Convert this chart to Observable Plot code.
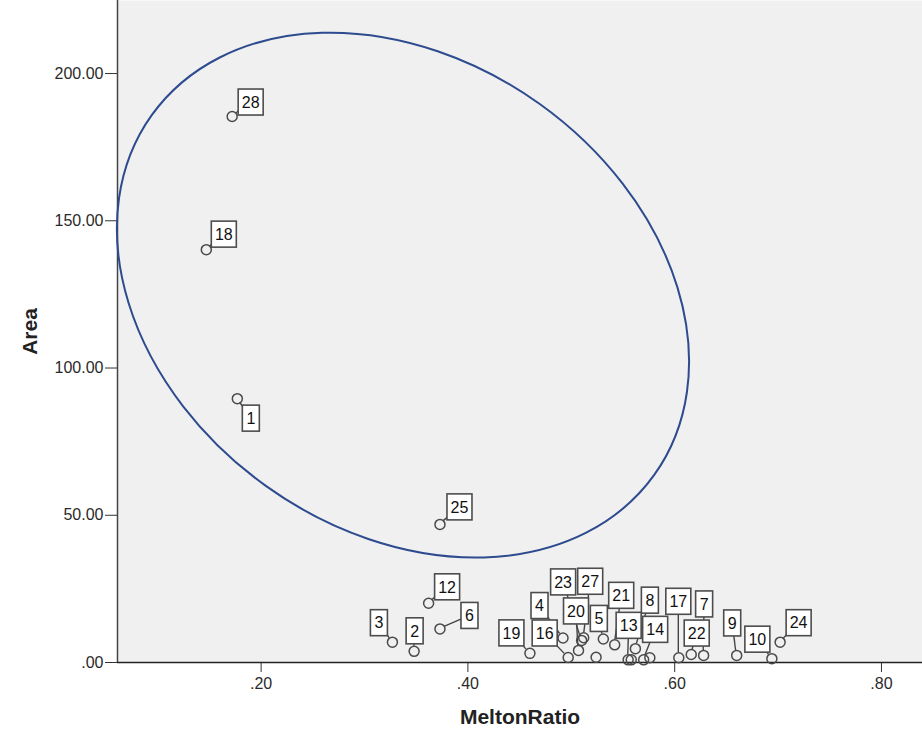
<!DOCTYPE html>
<html>
<head>
<meta charset="utf-8">
<script src="https://cdn.jsdelivr.net/npm/d3@7"></script>
<script src="https://cdn.jsdelivr.net/npm/@observablehq/plot@0.6"></script>
<style>
  html, body { margin: 0; padding: 0; background: #ffffff; }
  #chart svg { display: block; }
</style>
</head>
<body>
<div id="chart"></div>
<script>
// ---- data ----
const caseIds = [1,2,3,4,5,6,7,8,9,10,11,12,13,14,15,16,17,18,19,20,21,22,23,24,25,26,27,28];
const meltonRatio = [0.177,0.348,0.327,0.492,0.531,0.373,0.628,0.562,0.660,0.694,0.558,0.362,0.555,0.570,0.576,0.497,0.604,0.147,0.460,0.507,0.542,0.616,0.510,0.702,0.373,0.524,0.512,0.172];
const area = [89.6,3.8,6.9,8.3,8.0,11.4,2.4,4.7,2.4,1.3,0.9,20.1,0.9,0.9,1.6,1.7,1.6,140.2,3.1,4.1,6.0,2.7,7.5,6.9,46.9,1.8,8.4,185.4];
const hiddenLabels = [11, 15, 26];
const xTicks = [0.2, 0.4, 0.6, 0.8];
const yTicks = [0, 50, 100, 150, 200];
const xLabel = "MeltonRatio";
const yLabel = "Area";

// ---- annotation layout (label box offsets in px from each point) ----
const labelDx = [14,1,-13,-23,-4,30,1,15,-4,-14,0,19,1,12,0,-23,0,18,-18,-2,7,6,-18,19,20,0,7,19];
const labelDy = [20,-20,-19,-32,-20,-13,-51,-48,-32,-19,0,-16,-34,-30,0,-24,-56,-15,-20,-39,-49,-21,-58,-19,-17,0,-56,-14];
// highlighted ellipse (centre in data units, radii in px, rotation in degrees)
const ellipseCenter = {ratio: 0.3377, area: 124.6};
const ellipseRx = 309, ellipseRy = 235, ellipseRotate = 35.6;

const points = caseIds.map((id, i) => ({
  id, ratio: meltonRatio[i], area: area[i],
  label: hiddenLabels.includes(id) ? "" : String(id),
  dx: labelDx[i], dy: labelDy[i]
}));

const font = "'Liberation Sans', Arial, Helvetica, sans-serif";
const fmt = d => d3.format(".2f")(d).replace(/^0(?=\.)/, "");
const R = 5;

const annotationLayer = (index, scales) => {
  const g = d3.create("svg:g").attr("font-family", font);
  const ecx = scales.x(ellipseCenter.ratio), ecy = scales.y(ellipseCenter.area);
  g.append("ellipse")
    .attr("cx", ecx).attr("cy", ecy)
    .attr("rx", ellipseRx).attr("ry", ellipseRy)
    .attr("transform", `rotate(${ellipseRotate} ${ecx} ${ecy})`)
    .attr("fill", "none").attr("stroke", "#2d4b8e").attr("stroke-width", 2);
  for (const p of points) {
    if (!p.label) continue;
    const x = scales.x(p.ratio), y = scales.y(p.area);
    const len = Math.hypot(p.dx, p.dy) || 1;
    g.append("line")
      .attr("x1", x + p.dx / len * R).attr("y1", y + p.dy / len * R)
      .attr("x2", x + p.dx).attr("y2", y + p.dy)
      .attr("stroke", "#444").attr("stroke-width", 1.4);
  }
  for (const p of points) {
    if (!p.label) continue;
    const tx = scales.x(p.ratio) + p.dx, ty = scales.y(p.area) + p.dy;
    const w = p.label.length === 1 ? 17 : 25, h = 26;
    g.append("rect")
      .attr("x", tx - w / 2).attr("y", ty - h / 2)
      .attr("width", w).attr("height", h)
      .attr("fill", "#ffffff").attr("stroke", "#4d4d4d").attr("stroke-width", 1.6);
    g.append("text")
      .attr("x", tx).attr("y", ty + 5.8)
      .attr("text-anchor", "middle")
      .attr("font-size", 16).attr("fill", "#111")
      .text(p.label);
  }
  return g.node();
};

const chart = Plot.plot({
  width: 922,
  height: 731,
  marginLeft: 117,
  marginRight: 0,
  marginTop: 0,
  marginBottom: 69,
  style: {fontFamily: font, background: "#ffffff", overflow: "visible"},
  x: {domain: [0.0611, 0.8397]},
  y: {domain: [0, 224.8]},
  marks: [
    Plot.frame({fill: "#f0f0f0", stroke: null}),
    Plot.axisX({ticks: xTicks, tickFormat: fmt, tickSize: 10, tickPadding: 5, fontSize: 16, fill: "#2a2a2a", stroke: "#333", label: null}),
    Plot.axisY({ticks: yTicks, tickFormat: fmt, tickSize: 12, tickPadding: 2, fontSize: 16, fill: "#2a2a2a", stroke: "#333", label: null}),
    Plot.ruleY([0], {stroke: "#222", strokeWidth: 1.5}),
    Plot.ruleX([0.0611], {stroke: "#444", strokeWidth: 1.5}),
    Plot.text([xLabel], {frameAnchor: "bottom", dy: 61, text: d => d, fontSize: 21, fontWeight: "bold", fill: "#222", textAnchor: "middle"}),
    Plot.text([yLabel], {frameAnchor: "left", dx: -87, rotate: -90, text: d => d, fontSize: 21, fontWeight: "bold", fill: "#222", textAnchor: "middle"}),
    annotationLayer,
    Plot.dot(points, {x: "ratio", y: "area", r: R, stroke: "#4a4a4a", strokeWidth: 1.5, fill: "none"})
  ]
});
document.getElementById("chart").appendChild(chart);
</script>
</body>
</html>
